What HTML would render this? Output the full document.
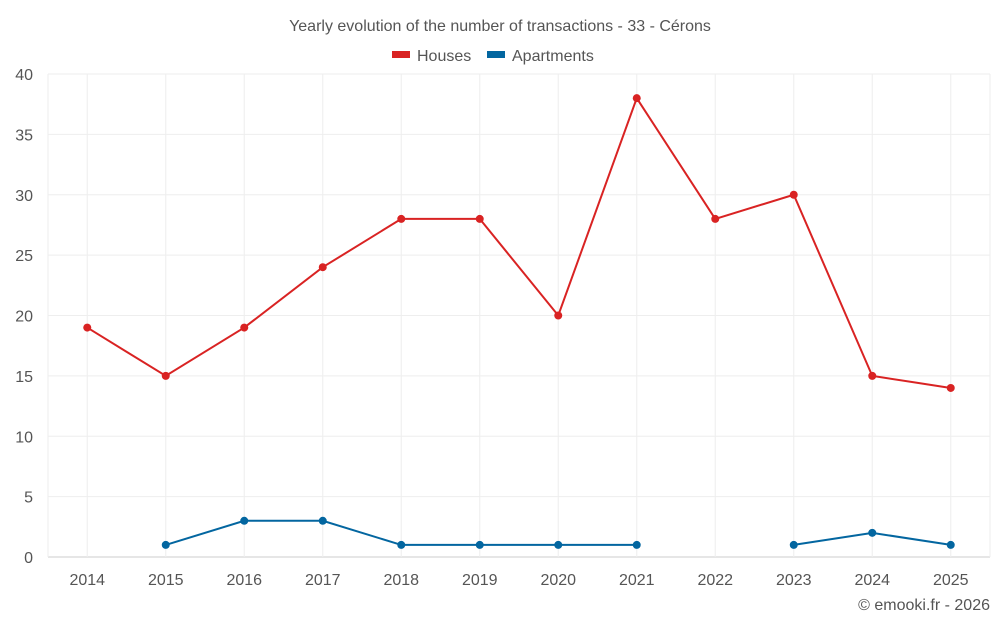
<!DOCTYPE html>
<html><head><meta charset="utf-8"><style>
body{margin:0;background:#fff;font-family:"Liberation Sans",sans-serif;}
svg text{font-family:"Liberation Sans",sans-serif;}
</style></head><body>
<svg id="chart" width="1000" height="625">
<text x="500" y="31" text-anchor="middle" font-size="16" fill="#555">Yearly evolution of the number of transactions - 33 - Cérons</text>
<g>
<g><rect x="392" y="51" width="18" height="7" fill="#d92323"/><text x="417" y="61" font-size="16" fill="#555">Houses</text></g>
<g><rect x="487" y="51" width="18" height="7" fill="#0366a0"/><text x="512" y="61" font-size="16" fill="#555">Apartments</text></g>
</g>
<g id="grid"></g><g id="axes"></g><g id="series"></g>
<text x="990" y="610" text-anchor="end" font-size="16" fill="#555">© emooki.fr - 2026</text>
</svg>
<script>
const years=[2014,2015,2016,2017,2018,2019,2020,2021,2022,2023,2024,2025];
const houses=[19,15,19,24,28,28,20,38,28,30,15,14];
const apartments=[null,1,3,3,1,1,1,1,null,1,2,1];
const yTicks=[0,5,10,15,20,25,30,35,40];
const L=48,R=990,T=74,B=557,yMax=40;
const step=(R-L)/years.length;
const x=i=>L+step*(i+0.5);
const y=v=>B-(v/yMax)*(B-T);
const NS="http://www.w3.org/2000/svg";
function mk(tag,attrs,parent){const e=document.createElementNS(NS,tag);for(const k in attrs)e.setAttribute(k,attrs[k]);parent.appendChild(e);return e;}
const grid=document.getElementById('grid'),axes=document.getElementById('axes'),series=document.getElementById('series');
yTicks.forEach(t=>{
 const l=mk('line',{x1:L,x2:R,y1:y(t),y2:y(t),stroke:t===0?'#ccc':'#eee'},grid);
 
 
 const tx=mk('text',{x:33,y:y(t)+6,'text-anchor':'end','font-size':16,fill:'#555'},axes);
 tx.textContent=t;
 
 
});
[L,R].forEach(px=>{
 const l=mk('line',{x1:px,x2:px,y1:T,y2:B,stroke:'#eee'},grid);
 
 
});
years.forEach((yr,i)=>{
 const l=mk('line',{x1:x(i),x2:x(i),y1:T,y2:B,stroke:'#eee'},grid);
 
 
 const tx=mk('text',{x:x(i),y:585,'text-anchor':'middle','font-size':16,fill:'#555'},axes);
 tx.textContent=yr;
 
 
});
function draw(vals,color,name){
 let segs=[],cur=[];
 vals.forEach((v,i)=>{if(v==null){if(cur.length)segs.push(cur);cur=[];}else cur.push([x(i),y(v)]);});
 if(cur.length)segs.push(cur);
 segs.forEach(s=>{
  const p=mk('polyline',{points:s.map(q=>q.join(',')).join(' '),fill:'none',stroke:color,'stroke-width':2},series);
  
  
 });
 vals.forEach((v,i)=>{if(v==null)return;
  const c=mk('circle',{cx:x(i),cy:y(v),r:4,fill:color},series);
  
  
 });
}
draw(houses,'#d92323','houses');
draw(apartments,'#0366a0','apartments');
</script>
</body></html>
